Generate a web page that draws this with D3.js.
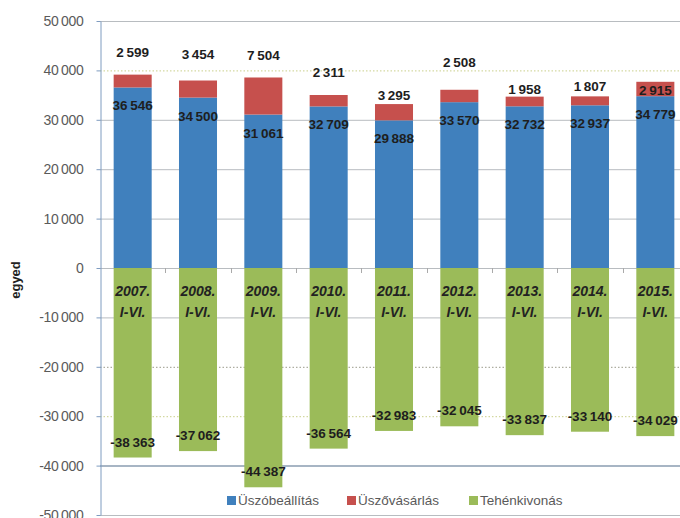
<!DOCTYPE html>
<html>
<head>
<meta charset="utf-8">
<script src="https://cdn.jsdelivr.net/npm/d3@7"></script>
<style>
  body { margin: 0; background: #fff; }
  svg { display: block; font-family: "Liberation Sans", Arial, sans-serif; }
</style>
</head>
<body>
<div id="chart"></div>
<script>
// data
const years = ['2007.', '2008.', '2009.', '2010.', '2011.', '2012.', '2013.', '2014.', '2015.'];
const period = 'I-VI.';
const uszobeallitas = [36546, 34500, 31061, 32709, 29888, 33570, 32732, 32937, 34779];
const uszovasarlas = [2599, 3454, 7504, 2311, 3295, 2508, 1958, 1807, 2915];
const tehenkivonas = [-38363, -37062, -44387, -36564, -32983, -32045, -33837, -33140, -34029];
const yTicks = [50000, 40000, 30000, 20000, 10000, 0, -10000, -20000, -30000, -40000, -50000];
const seriesNames = ['Üszóbeállítás', 'Üszővásárlás', 'Tehénkivonás'];

// label nudges for the red labels (pixels from stack top), as placed in the original
const redLabelDy = [-23, -27, -22, -23, -9, -28, -8, -10, 8];

const width = 680;
const height = 518;
const blue = '#4080bd';
const red = '#c6504d';
const green = '#9bbb59';

const svg = d3.select('#chart').append('svg')
    .attr('width', width)
    .attr('height', height);

const x = d3.scaleBand()
    .domain(years)
    .range([100, 688])
    .paddingInner(0.418)
    .paddingOuter(0.209);

const y = d3.scaleLinear()
    .domain([-50000, 50000])
    .range([515, 21]);

// numbers with a thin space as thousands separator and a plain hyphen as minus
const fmt = v => d3.format(',')(v).replace(/,/g, '\u2009').replace('\u2212', '-');

// gridlines
const dotted = [40000, -20000, -30000];
svg.append('g')
    .selectAll('line')
    .data(yTicks)
    .join('line')
    .attr('x1', 100)
    .attr('x2', width)
    .attr('y1', d => y(d) + 0.5)
    .attr('y2', d => y(d) + 0.5)
    .attr('stroke', d => dotted.includes(d) ? (d === -20000 ? '#9a9a8a' : '#c9cf8a') : (d === -40000 ? '#8a9cb0' : '#b8bcc0'))
    .attr('stroke-width', d => d === -40000 ? 1.5 : 1)
    .attr('stroke-dasharray', d => dotted.includes(d) ? '1.5,2' : null);

// y axis
const yAxis = svg.append('g')
    .attr('transform', 'translate(100.5,0)')
    .call(d3.axisLeft(y).tickValues(yTicks).tickSize(4).tickSizeOuter(0).tickFormat(fmt));
yAxis.select('.domain').attr('stroke', '#7f9cc0');
yAxis.selectAll('.tick line').attr('stroke', '#7f9cc0');
yAxis.selectAll('.tick text')
    .attr('x', -17)
    .attr('fill', '#5a5a5a')
    .style('font-size', '14px')
    .style('letter-spacing', '-0.3px');

svg.append('text')
    .attr('transform', 'translate(20,280) rotate(-90)')
    .attr('text-anchor', 'middle')
    .attr('font-size', 13)
    .attr('font-weight', 'bold')
    .attr('fill', '#222')
    .text('egyed');

// small category separators below zero line
svg.append('g')
    .selectAll('line')
    .data(years.slice(1))
    .join('line')
    .attr('x1', d => Math.round(x(d) - x.step() * 0.209) + 0.5)
    .attr('x2', d => Math.round(x(d) - x.step() * 0.209) + 0.5)
    .attr('y1', y(0))
    .attr('y2', y(0) + 5)
    .attr('stroke', '#aaa');

// bars
const bars = svg.append('g');
bars.selectAll('.blue')
    .data(years)
    .join('rect')
    .attr('x', d => x(d))
    .attr('width', x.bandwidth())
    .attr('y', (d, i) => y(uszobeallitas[i]))
    .attr('height', (d, i) => y(0) - y(uszobeallitas[i]))
    .attr('fill', blue);

bars.selectAll('.red')
    .data(years)
    .join('rect')
    .attr('x', d => x(d))
    .attr('width', x.bandwidth())
    .attr('y', (d, i) => y(uszobeallitas[i] + uszovasarlas[i]))
    .attr('height', (d, i) => y(uszobeallitas[i]) - y(uszobeallitas[i] + uszovasarlas[i]))
    .attr('fill', red);

bars.selectAll('.green')
    .data(years)
    .join('rect')
    .attr('x', d => x(d))
    .attr('width', x.bandwidth())
    .attr('y', y(0))
    .attr('height', (d, i) => y(tehenkivonas[i]) - y(0))
    .attr('fill', green);

// value labels
const labels = svg.append('g')
    .attr('text-anchor', 'middle')
    .attr('font-size', 13.5)
    .attr('font-weight', 'bold')
    .attr('fill', '#1e1e1e');

labels.selectAll('.lb')
    .data(years)
    .join('text')
    .attr('x', d => x(d) + x.bandwidth() / 2)
    .attr('y', (d, i) => y(uszobeallitas[i]) + 23)
    .text((d, i) => fmt(uszobeallitas[i]));

labels.selectAll('.lr')
    .data(years)
    .join('text')
    .attr('x', d => x(d) + x.bandwidth() / 2)
    .attr('y', (d, i) => y(uszobeallitas[i] + uszovasarlas[i]) + redLabelDy[i] + 5)
    .text((d, i) => fmt(uszovasarlas[i]));

labels.selectAll('.lg')
    .data(years)
    .join('text')
    .attr('x', d => x(d) + x.bandwidth() / 2)
    .attr('y', (d, i) => y(tehenkivonas[i]) - 11)
    .text((d, i) => fmt(tehenkivonas[i]));

// category labels
const cats = svg.append('g')
    .attr('text-anchor', 'middle')
    .attr('font-size', 14)
    .attr('font-weight', 'bold')
    .attr('font-style', 'italic')
    .attr('fill', '#222');
cats.selectAll('.y1')
    .data(years)
    .join('text')
    .attr('x', d => x(d) + x.bandwidth() / 2)
    .attr('y', 296)
    .text(d => d);
cats.selectAll('.y2')
    .data(years)
    .join('text')
    .attr('x', d => x(d) + x.bandwidth() / 2)
    .attr('y', 317)
    .text(period);

// legend
const legendX = [227, 347, 469];
const legendColors = [blue, red, green];
const lg = svg.append('g');
lg.selectAll('rect')
    .data(seriesNames)
    .join('rect')
    .attr('x', (d, i) => legendX[i])
    .attr('y', 496)
    .attr('width', 9)
    .attr('height', 9)
    .attr('fill', (d, i) => legendColors[i]);
lg.selectAll('text')
    .data(seriesNames)
    .join('text')
    .attr('x', (d, i) => legendX[i] + 11)
    .attr('y', 505)
    .attr('font-size', 13.5)
    .attr('fill', '#5a5a5a')
    .text(d => d);
</script>
</body>
</html>
